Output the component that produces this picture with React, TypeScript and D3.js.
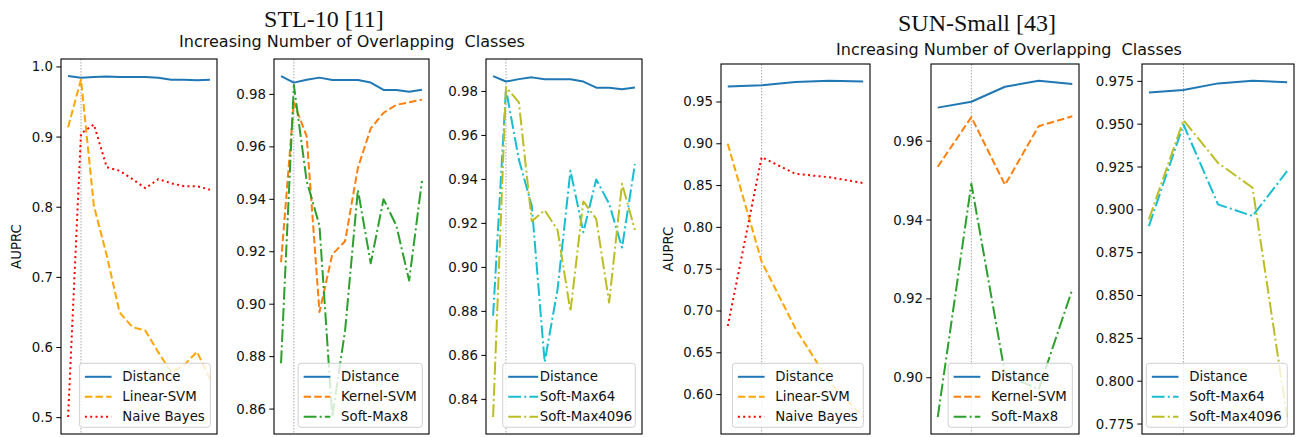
import { useEffect, useRef } from 'react';
import * as d3 from 'd3';

const W = 1298, H = 437;

// x positions: index of the overlap setting (x tick labels are cut off in the figure)
const STL_X = [0, 1, 2, 3, 4, 5, 6, 7, 8, 9, 10, 11];
const SUN_X = [0, 1, 2, 3, 4];
const MARK_X = 1; // dotted reference line

// STL-10
const STL_DISTANCE = [0.987, 0.9845, 0.9856, 0.9864, 0.9855, 0.9855, 0.9855, 0.9845, 0.9817, 0.9817, 0.981, 0.9818];
const STL_LINEAR_SVM = [0.914, 0.982, 0.802, 0.731, 0.65, 0.629, 0.624, 0.593, 0.565, 0.575, 0.594, 0.555];
const STL_NAIVE_BAYES = [0.501, 0.905, 0.918, 0.857, 0.852, 0.84, 0.827, 0.84, 0.834, 0.83, 0.83, 0.825];
const STL_KERNEL_SVM = [0.916, 0.977, 0.964, 0.897, 0.919, 0.924, 0.952, 0.967, 0.973, 0.976, 0.977, 0.978];
const STL_SOFTMAX8 = [0.8775, 0.9836, 0.947, 0.93, 0.857, 0.89, 0.9436, 0.9156, 0.94, 0.93, 0.909, 0.947];
const STL_SOFTMAX64 = [0.878, 0.981, 0.949, 0.928, 0.857, 0.89, 0.944, 0.916, 0.94, 0.929, 0.909, 0.947];
const STL_SOFTMAX4096 = [0.832, 0.982, 0.975, 0.921, 0.926, 0.917, 0.88, 0.93, 0.922, 0.884, 0.938, 0.917];

// SUN-Small
const SUN_DISTANCE = [0.9685, 0.97, 0.9738, 0.9753, 0.9745];
const SUN_LINEAR_SVM = [0.9, 0.759, 0.679, 0.615, 0.573];
const SUN_NAIVE_BAYES = [0.682, 0.884, 0.864, 0.86, 0.853];
const SUN_KERNEL_SVM = [0.9535, 0.9661, 0.9489, 0.9638, 0.9663];
const SUN_SOFTMAX8 = [0.89, 0.9492, 0.901, 0.897, 0.9224];
const SUN_SOFTMAX64 = [0.8905, 0.9498, 0.9032, 0.8964, 0.9226];
const SUN_SOFTMAX4096 = [0.8944, 0.9523, 0.9274, 0.9129, 0.779];

// y tick labels per panel
const TICKS_1 = [0.5, 0.6, 0.7, 0.8, 0.9, 1.0];
const TICKS_2 = [0.86, 0.88, 0.9, 0.92, 0.94, 0.96, 0.98];
const TICKS_3 = [0.84, 0.86, 0.88, 0.9, 0.92, 0.94, 0.96, 0.98];
const TICKS_4 = [0.6, 0.65, 0.7, 0.75, 0.8, 0.85, 0.9, 0.95];
const TICKS_5 = [0.9, 0.92, 0.94, 0.96];
const TICKS_6 = [0.775, 0.8, 0.825, 0.85, 0.875, 0.9, 0.925, 0.95, 0.975];

const STYLE: Record<string, { color: string; dash: string | null }> = {
  'Distance': { color: '#1f77b4', dash: null },
  'Linear-SVM': { color: '#ffa500', dash: '7.4,3.2' },
  'Naive Bayes': { color: '#ff0000', dash: '2,3.3' },
  'Kernel-SVM': { color: '#ff7f0e', dash: '7.4,3.2' },
  'Soft-Max8': { color: '#2ca02c', dash: '12.8,3.2,2,3.2' },
  'Soft-Max64': { color: '#17becf', dash: '12.8,3.2,2,3.2' },
  'Soft-Max4096': { color: '#bcbd22', dash: '12.8,3.2,2,3.2' },
};

const SANS = 'DejaVu Sans, sans-serif';

export default function App() {
  const svgRef = useRef<SVGSVGElement>(null);

  useEffect(() => {
    document.body.style.margin = '0';
    const svg = d3.select(svgRef.current);
    svg.selectAll('*').remove();

    const panels = [
      { l: 61, r: 217, t: 59, xs: STL_X, ticks: TICKS_1, fmt: '.1f', ylabel: true,
        series: [['Distance', STL_DISTANCE], ['Linear-SVM', STL_LINEAR_SVM], ['Naive Bayes', STL_NAIVE_BAYES]] },
      { l: 274, r: 429, t: 59, xs: STL_X, ticks: TICKS_2, fmt: '.2f',
        series: [['Distance', STL_DISTANCE], ['Kernel-SVM', STL_KERNEL_SVM], ['Soft-Max8', STL_SOFTMAX8]] },
      { l: 486, r: 642, t: 59, xs: STL_X, ticks: TICKS_3, fmt: '.2f', tight: true,
        series: [['Distance', STL_DISTANCE], ['Soft-Max64', STL_SOFTMAX64], ['Soft-Max4096', STL_SOFTMAX4096]] },
      { l: 721, r: 870, t: 64, xs: SUN_X, ticks: TICKS_4, fmt: '.2f', ylabel: true,
        series: [['Distance', SUN_DISTANCE], ['Linear-SVM', SUN_LINEAR_SVM], ['Naive Bayes', SUN_NAIVE_BAYES]] },
      { l: 931, r: 1079, t: 64, xs: SUN_X, ticks: TICKS_5, fmt: '.2f',
        series: [['Distance', SUN_DISTANCE], ['Kernel-SVM', SUN_KERNEL_SVM], ['Soft-Max8', SUN_SOFTMAX8]] },
      { l: 1142, r: 1294, t: 64, xs: SUN_X, ticks: TICKS_6, fmt: '.3f',
        series: [['Distance', SUN_DISTANCE], ['Soft-Max64', SUN_SOFTMAX64], ['Soft-Max4096', SUN_SOFTMAX4096]] },
    ] as any[];

    const B = 434;

    panels.forEach((p, pi) => {
      const xs: number[] = p.xs;
      const xSpan = d3.max(xs)! - d3.min(xs)!;
      const x = d3.scaleLinear()
        .domain([d3.min(xs)! - 0.05 * xSpan, d3.max(xs)! + 0.05 * xSpan])
        .range([p.l, p.r]);
      const all = p.series.flatMap((s: any) => s[1] as number[]);
      const lo = d3.min(all)!, hi = d3.max(all)!;
      const m = 0.05 * (hi - lo);
      const y = d3.scaleLinear().domain([lo - m, hi + m]).range([B, p.t]);

      const g = svg.append('g');
      const clipId = `clip${pi}`;
      g.append('clipPath').attr('id', clipId)
        .append('rect').attr('x', p.l).attr('y', p.t).attr('width', p.r - p.l).attr('height', B - p.t);

      // dotted reference line
      g.append('line')
        .attr('x1', x(MARK_X)).attr('x2', x(MARK_X))
        .attr('y1', p.t).attr('y2', B)
        .attr('stroke', '#a8a8a8').attr('stroke-width', 1)
        .attr('stroke-dasharray', '1.5,1.5');

      const line = d3.line<number>().x((_, i) => x(xs[i])).y((d) => y(d));
      const lines = g.append('g').attr('clip-path', `url(#${clipId})`);
      p.series.forEach(([name, vals]: [string, number[]]) => {
        const st = STYLE[name];
        lines.append('path')
          .attr('d', line(vals))
          .attr('fill', 'none')
          .attr('stroke', st.color)
          .attr('stroke-width', 2)
          .attr('stroke-linejoin', 'round')
          .attr('stroke-dasharray', st.dash ?? null);
      });

      // y axis ticks
      const f = d3.format(p.fmt);
      let maxTick = 0;
      (p.ticks as number[]).forEach((tv) => {
        const ty = y(tv);
        g.append('line').attr('x1', p.l - 4.7).attr('x2', p.l).attr('y1', ty).attr('y2', ty)
          .attr('stroke', '#000').attr('stroke-width', 1);
        const tl = g.append('text')
          .attr('x', p.l - 8).attr('y', ty)
          .attr('text-anchor', 'end').attr('dominant-baseline', 'central')
          .attr('font-family', SANS).attr('font-size', 13.33).attr('fill', '#111')
          .text(f(tv));
        maxTick = Math.max(maxTick, (tl.node() as SVGTextElement).getComputedTextLength());
      });

      if (p.ylabel) {
        g.append('text')
          .attr('transform', `translate(${p.l - 8 - maxTick - 15},${(p.t + B) / 2}) rotate(-90)`)
          .attr('text-anchor', 'middle').attr('dominant-baseline', 'central')
          .attr('font-family', SANS).attr('font-size', 13.33).attr('fill', '#111')
          .text('AUPRC');
      }

      // frame
      g.append('rect').attr('x', p.l).attr('y', p.t).attr('width', p.r - p.l).attr('height', B - p.t)
        .attr('fill', 'none').attr('stroke', '#000').attr('stroke-width', 1.1);

      // legend
      const hl = p.tight ? 30 : 26.7;
      const tp = p.tight ? 1.5 : 10.7;
      const padL = 5.5, padR = p.tight ? 3 : 5.5;
      const lg = g.append('g');
      const box = lg.append('rect');
      const texts = p.series.map(([name]: [string]) =>
        lg.append('text')
          .attr('font-family', SANS).attr('font-size', 13.33).attr('fill', '#111')
          .attr('dominant-baseline', 'central')
          .text(name));
      const tw = d3.max(texts, (t: any) => (t.node() as SVGTextElement).getComputedTextLength())!;
      const bw = padL + hl + tp + tw + padR;
      const bh = 64;
      const bx = p.r - 6.7 - bw;
      const by = B - 6.7 - bh;
      box.attr('x', bx).attr('y', by).attr('width', bw).attr('height', bh).attr('rx', 3)
        .attr('fill', '#fff').attr('fill-opacity', 0.8)
        .attr('stroke', '#d0d0d0').attr('stroke-width', 1);
      p.series.forEach(([name]: [string], i: number) => {
        const ry = by + 13.5 + i * 20;
        const st = STYLE[name];
        lg.append('line')
          .attr('x1', bx + padL).attr('x2', bx + padL + hl).attr('y1', ry).attr('y2', ry)
          .attr('stroke', st.color).attr('stroke-width', 2)
          .attr('stroke-dasharray', st.dash ?? null);
        texts[i].attr('x', bx + padL + hl + tp).attr('y', ry);
      });
    });

    // titles
    const titles = [
      { text: 'STL-10 [11]', x: 324, y: 27 },
      { text: 'SUN-Small [43]', x: 977, y: 31 },
    ];
    titles.forEach((t) => {
      svg.append('text').attr('x', t.x).attr('y', t.y).attr('text-anchor', 'middle')
        .attr('font-family', 'Liberation Serif, serif').attr('font-size', 24).attr('fill', '#111')
        .text(t.text);
    });
    [{ x: 352, y: 47 }, { x: 1009, y: 55 }].forEach((s) => {
      svg.append('text').attr('x', s.x).attr('y', s.y).attr('text-anchor', 'middle')
        .attr('font-family', SANS).attr('font-size', 16).attr('fill', '#111')
        .style('white-space', 'pre')
        .text('Increasing Number of Overlapping  Classes');
    });
  }, []);

  return <svg ref={svgRef} width={W} height={H} style={{ display: 'block', background: '#fff' }} />;
}
